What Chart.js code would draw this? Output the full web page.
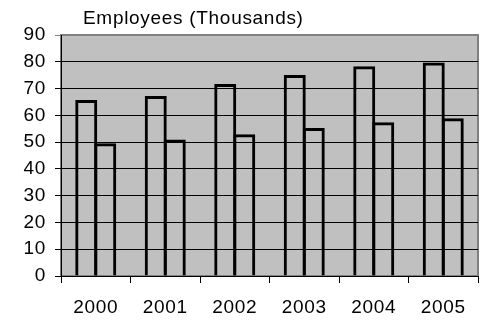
<!DOCTYPE html>
<html>
<head>
<meta charset="utf-8">
<script src="https://cdn.jsdelivr.net/npm/chart.js@4/dist/chart.umd.min.js"></script>
<style>
  html, body { margin: 0; padding: 0; background: #fff; }
  #wrap { width: 480px; height: 320px; }
</style>
</head>
<body>
<div id="wrap"><canvas id="empChart" width="480" height="320"></canvas></div>
<script>
const years = ['2000', '2001', '2002', '2003', '2004', '2005'];
const seriesA = [65.7, 67.2, 71.7, 75.1, 78.3, 79.7];
const seriesB = [49.6, 51.0, 52.9, 55.3, 57.4, 58.9];
const yTicks = [0, 10, 20, 30, 40, 50, 60, 70, 80, 90];
const chartTitle = 'Employees (Thousands)';

const FONT = '"Liberation Sans", Arial, sans-serif';

// grey plot area + frame, title text
const plotBg = {
  id: 'plotBg',
  beforeDraw(chart) {
    const { ctx, chartArea: a } = chart;
    // the reference text is a little wider than plain Arial
    ctx.letterSpacing = '0.7px';
    ctx.save();
    ctx.fillStyle = '#c0c0c0';
    ctx.fillRect(a.left, a.top, a.right - a.left, a.bottom - a.top);
    ctx.strokeStyle = '#808080';
    ctx.lineWidth = 2;
    ctx.strokeRect(a.left, a.top, a.right - a.left, a.bottom - a.top);
    ctx.restore();
  },
  afterDraw(chart) {
    const { ctx } = chart;
    ctx.save();
    ctx.fillStyle = '#000';
    ctx.font = '19px ' + FONT;
    ctx.textBaseline = 'alphabetic';
    ctx.fillText(chartTitle, 83, 24);
    ctx.restore();
  }
};

const ctx = document.getElementById('empChart').getContext('2d');
new Chart(ctx, {
  type: 'bar',
  data: {
    labels: years,
    datasets: [
      {
        data: seriesA,
        backgroundColor: 'rgba(0,0,0,0)',
        borderColor: '#000000',
        borderWidth: 3,
        categoryPercentage: 0.547,
        barPercentage: 1.158
      },
      {
        data: seriesB,
        backgroundColor: 'rgba(0,0,0,0)',
        borderColor: '#000000',
        borderWidth: 3,
        categoryPercentage: 0.547,
        barPercentage: 1.158
      }
    ]
  },
  options: {
    responsive: false,
    animation: false,
    layout: { padding: { top: 35, right: 2, left: 0, bottom: 0 } },
    plugins: {
      legend: { display: false },
      tooltip: { enabled: false }
    },
    scales: {
      x: {
        grid: {
          offset: true,
          drawOnChartArea: false,
          drawTicks: true,
          tickLength: 7,
          color: '#000'
        },
        border: { color: '#000', width: 1 },
        ticks: {
          color: '#000',
          font: { family: FONT, size: 19 },
          padding: 13,
          maxRotation: 0
        },
        afterFit(scale) { scale.height = 44; }
      },
      y: {
        min: 0,
        max: 90,
        afterBuildTicks(scale) {
          scale.ticks = yTicks.map(v => ({ value: v }));
        },
        grid: {
          color: ctx => (ctx.tick && ctx.tick.value === 90 ? '#808080' : '#000'),
          tickLength: 6,
          lineWidth: 1
        },
        border: { color: '#000', width: 1 },
        ticks: {
          color: '#000',
          font: { family: FONT, size: 19 },
          padding: 9
        },
        afterFit(scale) { scale.width = 61; }
      }
    }
  },
  plugins: [plotBg]
});
</script>
</body>
</html>
